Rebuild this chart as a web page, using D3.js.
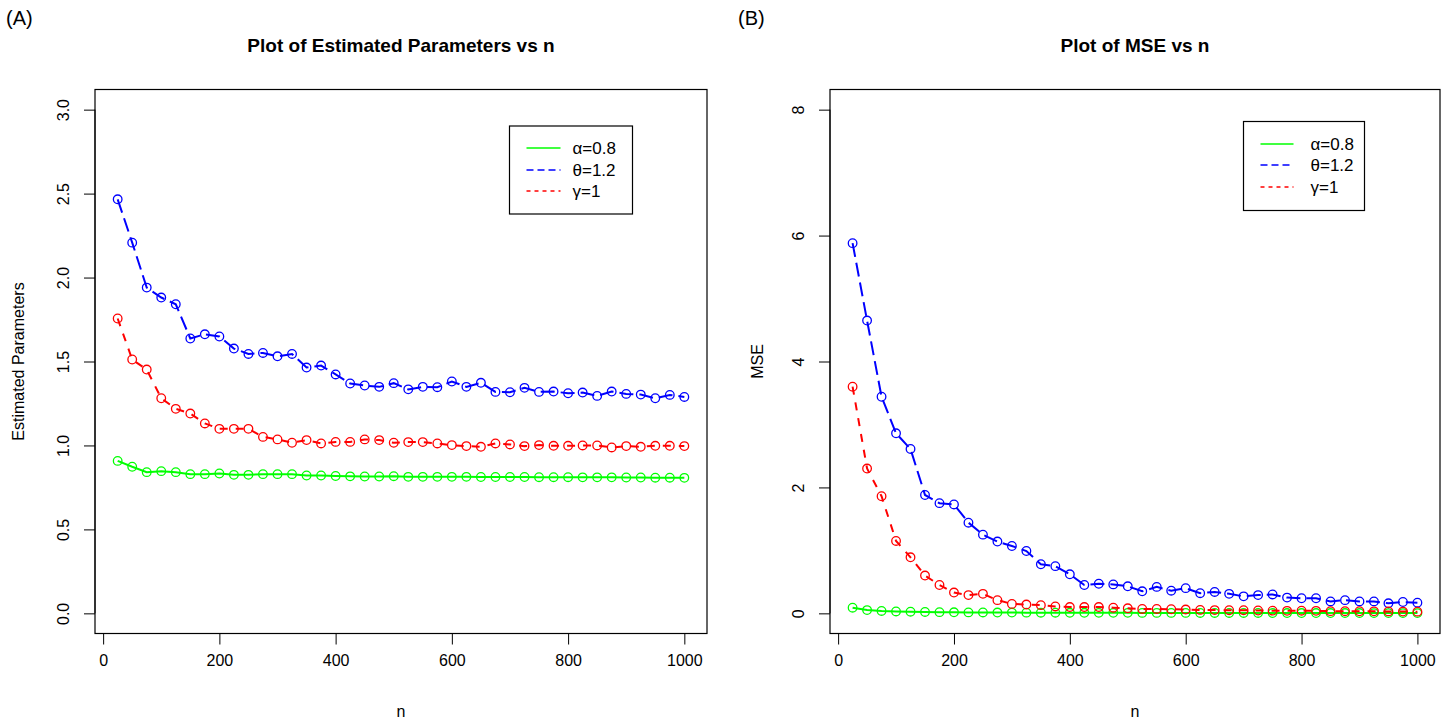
<!DOCTYPE html>
<html>
<head>
<meta charset="utf-8">
<script src="https://cdn.jsdelivr.net/npm/d3@7"></script>
<style>
  body { margin: 0; background: #fff; }
  svg text { font-family: "Liberation Sans", Arial, Helvetica, sans-serif; }
</style>
</head>
<body>
<div id="chart"></div>
<script>
// sample sizes
const nValues = d3.range(25, 1001, 25);

// estimated parameters
const estAlpha = [0.908, 0.873, 0.841, 0.847, 0.841, 0.829, 0.829, 0.833, 0.825, 0.825,
  0.829, 0.829, 0.829, 0.821, 0.821, 0.818, 0.816, 0.815, 0.815, 0.817,
  0.813, 0.813, 0.813, 0.813, 0.813, 0.812, 0.812, 0.812, 0.812, 0.811,
  0.811, 0.811, 0.810, 0.810, 0.810, 0.809, 0.809, 0.808, 0.808, 0.807];
const estTheta = [2.466, 2.208, 1.940, 1.881, 1.841, 1.637, 1.662, 1.649, 1.577, 1.545,
  1.551, 1.531, 1.545, 1.464, 1.476, 1.423, 1.369, 1.357, 1.349, 1.371,
  1.334, 1.349, 1.347, 1.381, 1.349, 1.373, 1.319, 1.317, 1.343, 1.319,
  1.321, 1.311, 1.315, 1.295, 1.321, 1.307, 1.303, 1.281, 1.301, 1.289];
const estGamma = [1.756, 1.512, 1.452, 1.281, 1.218, 1.190, 1.131, 1.099, 1.099, 1.099,
  1.051, 1.036, 1.016, 1.032, 1.012, 1.021, 1.021, 1.036, 1.032, 1.016,
  1.020, 1.020, 1.012, 1.002, 0.996, 0.992, 1.012, 1.006, 0.996, 1.002,
  0.998, 0.998, 1.000, 1.000, 0.988, 0.996, 0.992, 0.998, 0.998, 0.996];

// mean squared errors
const mseAlpha = [0.090, 0.052, 0.038, 0.030, 0.026, 0.022, 0.019, 0.017, 0.015, 0.014,
  0.013, 0.012, 0.011, 0.010, 0.010, 0.009, 0.009, 0.008, 0.008, 0.008,
  0.007, 0.007, 0.007, 0.007, 0.006, 0.006, 0.006, 0.006, 0.006, 0.005,
  0.005, 0.005, 0.005, 0.005, 0.005, 0.005, 0.004, 0.004, 0.004, 0.004];
const mseTheta = [5.88, 4.65, 3.44, 2.86, 2.61, 1.88, 1.75, 1.73, 1.44, 1.25,
  1.14, 1.07, 0.99, 0.78, 0.75, 0.62, 0.45, 0.47, 0.46, 0.43,
  0.35, 0.42, 0.36, 0.40, 0.32, 0.34, 0.31, 0.27, 0.29, 0.30,
  0.25, 0.24, 0.24, 0.19, 0.21, 0.19, 0.19, 0.16, 0.18, 0.17];
const mseGamma = [3.60, 2.30, 1.86, 1.15, 0.89, 0.60, 0.45, 0.33, 0.29, 0.31,
  0.21, 0.15, 0.14, 0.13, 0.11, 0.10, 0.10, 0.10, 0.09, 0.08,
  0.07, 0.07, 0.065, 0.06, 0.055, 0.052, 0.05, 0.05, 0.045, 0.043,
  0.04, 0.042, 0.04, 0.035, 0.034, 0.033, 0.032, 0.031, 0.028, 0.027];

// axis ticks and legend labels
const xTicks = [0, 200, 400, 600, 800, 1000];
const yTicksEst = [0, 0.5, 1, 1.5, 2, 2.5, 3];
const yTicksMse = [0, 2, 4, 6, 8];
const legendLabels = ["\u03b1=0.8", "\u03b8=1.2", "\u03b3=1"];

const W = 1456, H = 725;
const svg = d3.select("#chart").append("svg")
    .attr("width", W)
    .attr("height", H);

// series styles: colour, dash for data lines, dash for legend lines
const styles = [
  {color: "#00ff00", dash: null, legendDash: null},
  {color: "#0000ff", dash: "14,6", legendDash: "7,4"},
  {color: "#ff0000", dash: "8,8", legendDash: "4,4"}
];

function panel(opt) {
    // R style: axes extended 4% beyond data range
    let xr = [25, 1000], yr = opt.yLim;
    let xPad = (xr[1] - xr[0]) * 0.04, yPad = (yr[1] - yr[0]) * 0.04;
    let x = d3.scaleLinear().domain([xr[0] - xPad, xr[1] + xPad]).range([opt.left, opt.right]);
    let y = d3.scaleLinear().domain([yr[0] - yPad, yr[1] + yPad]).range([opt.bottom, opt.top]);

    let g = svg.append("g");

    // x axis
    let xa = g.append("g")
        .attr("transform", "translate(0," + opt.bottom + ")")
        .call(d3.axisBottom(x).tickValues(xTicks).tickSize(11).tickPadding(10).tickFormat(d3.format("d")));
    xa.select(".domain").attr("d", "M" + x(xTicks[0]) + ",0H" + x(xTicks[xTicks.length - 1]));
    xa.selectAll("text").attr("font-size", 16).attr("fill", "#000")
        .style("font-family", "'Liberation Sans', Arial, sans-serif");

    // y axis with rotated labels
    let ya = g.append("g")
        .attr("transform", "translate(" + opt.left + ",0)")
        .call(d3.axisLeft(y).tickValues(opt.yTicks).tickSize(11).tickFormat(opt.yFormat));
    ya.select(".domain").attr("d", "M0," + y(opt.yTicks[0]) + "V" + y(opt.yTicks[opt.yTicks.length - 1]));
    ya.selectAll("text")
        .attr("font-size", 16).attr("fill", "#000")
        .style("font-family", "'Liberation Sans', Arial, sans-serif")
        .attr("x", null).attr("dy", null)
        .attr("text-anchor", "middle")
        .attr("transform", "translate(-26,0) rotate(-90)");

    // plot box
    g.append("rect")
        .attr("x", opt.left).attr("y", opt.top)
        .attr("width", opt.right - opt.left).attr("height", opt.bottom - opt.top)
        .attr("fill", "none").attr("stroke", "#000").attr("stroke-width", 1.2);

    // series
    opt.series.forEach(function(vals, i) {
        let st = styles[i];
        let pts = nValues.map(function(n, j) { return [n, vals[j]]; });
        let line = d3.line().x(function(d) { return x(d[0]); }).y(function(d) { return y(d[1]); });
        g.append("path")
            .datum(pts)
            .attr("d", line)
            .attr("fill", "none")
            .attr("stroke", st.color)
            .attr("stroke-width", 2)
            .attr("stroke-dasharray", st.dash);
        g.selectAll(null)
            .data(pts)
            .enter()
            .append("circle")
            .attr("cx", function(d) { return x(d[0]); })
            .attr("cy", function(d) { return y(d[1]); })
            .attr("r", 4.3)
            .attr("fill", "none")
            .attr("stroke", st.color)
            .attr("stroke-width", 1.3);
    });

    // titles
    g.append("text")
        .attr("x", (opt.left + opt.right) / 2).attr("y", 52)
        .attr("text-anchor", "middle").attr("font-size", 19).attr("font-weight", "bold")
        .text(opt.title);
    g.append("text")
        .attr("x", (opt.left + opt.right) / 2).attr("y", 717)
        .attr("text-anchor", "middle").attr("font-size", 16)
        .text("n");
    g.append("text")
        .attr("transform", "translate(" + opt.yLabelX + "," + ((opt.top + opt.bottom) / 2) + ") rotate(-90)")
        .attr("text-anchor", "middle").attr("font-size", 16)
        .text(opt.yLabel);
    g.append("text")
        .attr("x", opt.tagX).attr("y", 25)
        .attr("font-size", 20)
        .text(opt.tag);

    // legend
    let lg = opt.legend;
    g.append("rect")
        .attr("x", lg.x).attr("y", lg.y)
        .attr("width", lg.w).attr("height", lg.h)
        .attr("fill", "#fff").attr("stroke", "#000").attr("stroke-width", 1.2);
    legendLabels.forEach(function(lab, i) {
        let yy = Math.round(lg.y + lg.row0 + i * lg.step);
        g.append("line")
            .attr("x1", lg.x + lg.l1).attr("x2", lg.x + lg.l2)
            .attr("y1", yy).attr("y2", yy)
            .attr("stroke", styles[i].color)
            .attr("stroke-width", 1.5)
            .attr("stroke-dasharray", styles[i].legendDash);
        g.append("text")
            .attr("x", lg.x + lg.tx).attr("y", yy + 6)
            .attr("font-size", 17)
            .text(lab);
    });
}

panel({
    left: 95, right: 707, top: 89.5, bottom: 633.5,
    yLim: [0, 3], yTicks: yTicksEst, yFormat: d3.format(".1f"),
    series: [estAlpha, estTheta, estGamma],
    title: "Plot of Estimated Parameters vs n",
    yLabel: "Estimated Parameters", yLabelX: 24,
    tag: "(A)", tagX: 6,
    legend: {x: 509.5, y: 126, w: 123, h: 88, row0: 22, step: 21.7, l1: 17, l2: 51, tx: 63}
});

panel({
    left: 830, right: 1440, top: 89.5, bottom: 633.5,
    yLim: [0, 8], yTicks: yTicksMse, yFormat: d3.format("d"),
    series: [mseAlpha, mseTheta, mseGamma],
    title: "Plot of MSE vs n",
    yLabel: "MSE", yLabelX: 763,
    tag: "(B)", tagX: 738,
    legend: {x: 1243.5, y: 121.5, w: 121, h: 89, row0: 22, step: 21.7, l1: 17, l2: 50, tx: 67}
});
</script>
</body>
</html>
